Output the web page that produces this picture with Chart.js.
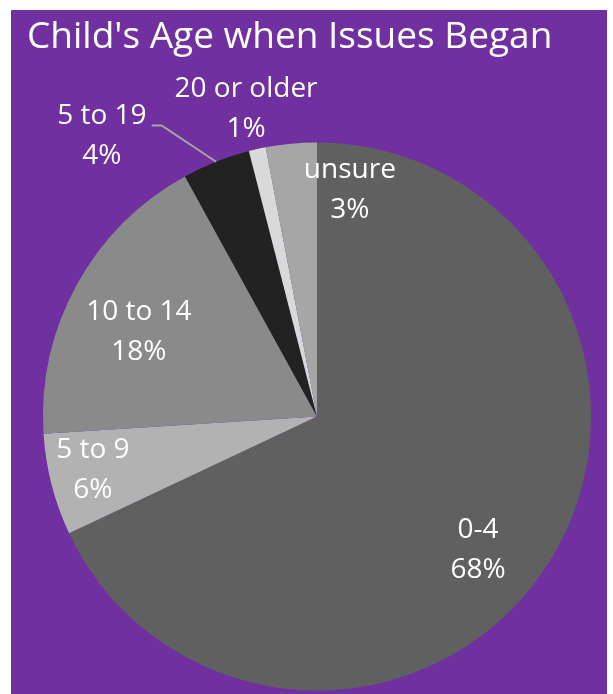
<!DOCTYPE html>
<html>
<head>
<meta charset="utf-8">
<script src="https://cdn.jsdelivr.net/npm/chart.js@4"></script>
<style>
  body { margin: 0; background: #ffffff; }
  #wrap { position: absolute; left: 11px; top: 10px; width: 596px; height: 684px; background: #7030a0; }
</style>
</head>
<body>
<div id="wrap"><canvas id="ageChart"></canvas></div>
<script>
// age groups and their share (%)
const ageGroups = ['0-4', '5 to 9', '10 to 14', '5 to 19', '20 or older', 'unsure'];
const shares = [68, 6, 18, 4, 1, 3];
const sliceColors = ['#606060', '#b2b2b2', '#8a8a8a', '#222222', '#d9d9d9', '#a6a6a6'];

// where each label sits, as a fraction of the radius from the centre
const labelSpots = [
    [0.588, 0.487],
    [-0.818, 0.195],
    [-0.650, -0.308],
    [-0.785, -1.022],
    [-0.259, -1.122],
    [0.120, -0.827]
];
// the outside labels that get a leader line
const leaderFor = [3];

const sliceLabels = {
    id: 'sliceLabels',
    afterDatasetsDraw(chart) {
        const ctx = chart.ctx;
        const arcs = chart.getDatasetMeta(0).data;
        ctx.save();
        ctx.font = '28px "Open Sans"';
        ctx.fillStyle = '#ffffff';
        ctx.textAlign = 'center';
        ctx.textBaseline = 'middle';
        arcs.forEach((arc, i) => {
            const r = arc.outerRadius;
            const cx = arc.x + labelSpots[i][0] * r;
            const cy = arc.y + labelSpots[i][1] * r;
            const name = ageGroups[i];
            ctx.fillText(name, cx, cy - 20);
            ctx.fillText(shares[i] + '%', cx, cy + 20);

            if (leaderFor.includes(i)) {
                const mid = (arc.startAngle + arc.endAngle) / 2;
                const sx = cx + ctx.measureText(name).width / 2 + 5;
                const sy = cy - 11;
                ctx.strokeStyle = '#a6a6a6';
                ctx.lineWidth = 2;
                ctx.beginPath();
                ctx.moveTo(sx, sy);
                ctx.lineTo(sx + 10, sy);
                ctx.lineTo(arc.x + Math.cos(mid) * r, arc.y + Math.sin(mid) * r);
                ctx.stroke();
            }
        });
        ctx.restore();
    }
};

new Chart(document.getElementById('ageChart'), {
    type: 'pie',
    data: {
        labels: ageGroups,
        datasets: [{
            data: shares,
            backgroundColor: sliceColors,
            borderWidth: 0
        }]
    },
    options: {
        responsive: true,
        maintainAspectRatio: false,
        animation: false,
        layout: { padding: { left: 16, right: 0, top: 0, bottom: 3.5 } },
        plugins: {
            legend: { display: false },
            tooltip: { enabled: false },
            title: {
                display: true,
                text: "Child's Age when Issues Began",
                align: 'start',
                color: '#ffffff',
                font: { family: 'Open Sans', size: 37, weight: 'normal', lineHeight: 1 },
                padding: { top: 8.5, bottom: 87 }
            }
        }
    },
    plugins: [sliceLabels]
});
</script>
</body>
</html>
